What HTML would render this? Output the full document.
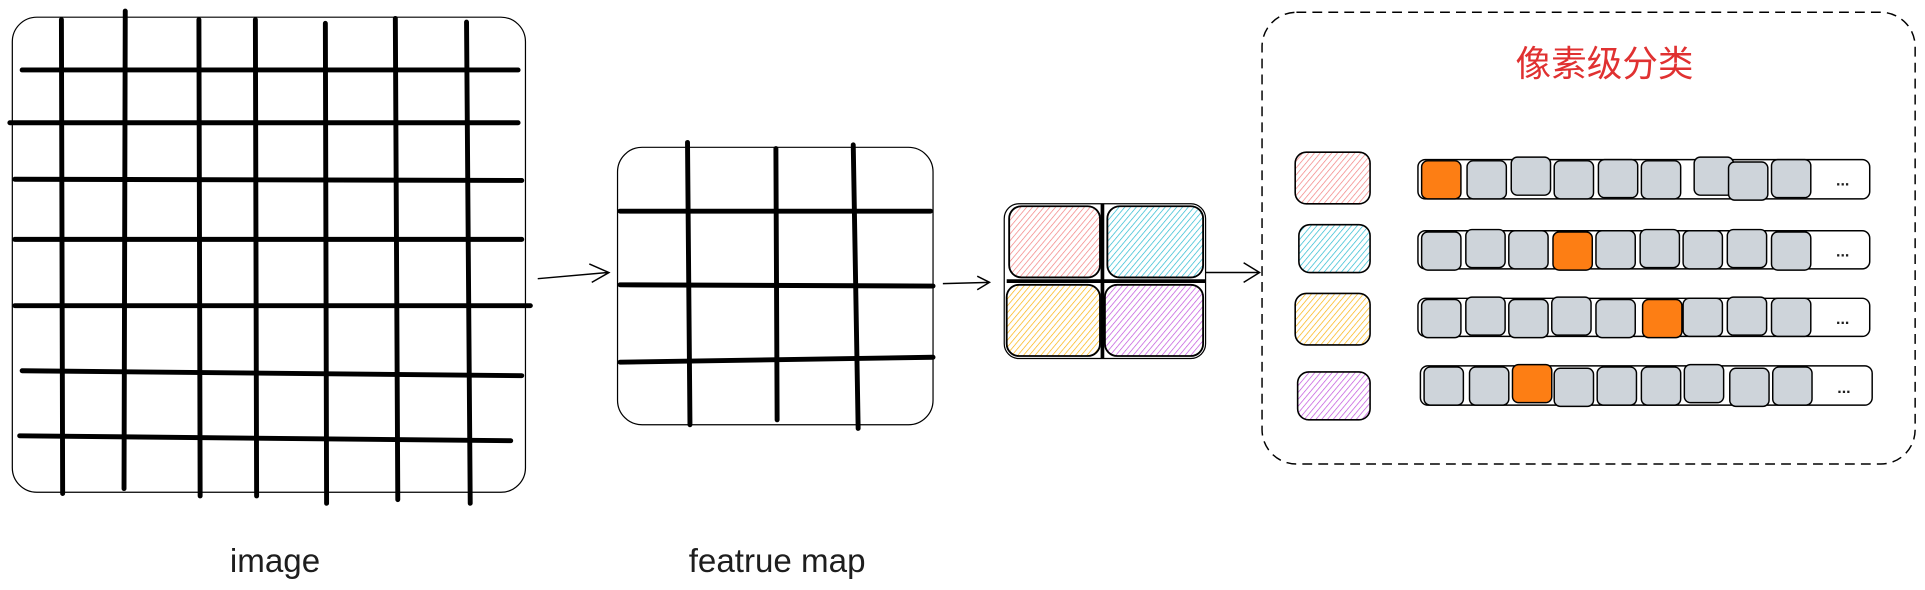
<!DOCTYPE html>
<html><head><meta charset="utf-8"><style>
html,body{margin:0;padding:0;background:#fff;width:1925px;height:590px;overflow:hidden}
svg{display:block}
</style></head><body>
<svg width="1925" height="590" viewBox="0 0 1568 480.6" xmlns="http://www.w3.org/2000/svg">
<defs>
<pattern id="hp" width="3.6" height="3.6" patternUnits="userSpaceOnUse" patternTransform="rotate(40)"><line x1="0" y1="0" x2="0" y2="3.6" stroke="#f27c7c" stroke-width="1.1"/></pattern>
<pattern id="hc" width="3.6" height="3.6" patternUnits="userSpaceOnUse" patternTransform="rotate(40)"><line x1="0" y1="0" x2="0" y2="3.6" stroke="#22b8cf" stroke-width="1.1"/></pattern>
<pattern id="hy" width="3.6" height="3.6" patternUnits="userSpaceOnUse" patternTransform="rotate(40)"><line x1="0" y1="0" x2="0" y2="3.6" stroke="#fab005" stroke-width="1.1"/></pattern>
<pattern id="hv" width="3.6" height="3.6" patternUnits="userSpaceOnUse" patternTransform="rotate(40)"><line x1="0" y1="0" x2="0" y2="3.6" stroke="#be4bdb" stroke-width="1.1"/></pattern>
</defs>
<g fill="none" stroke="#000">
<rect x="10" y="14" width="418" height="387" rx="20" stroke-width="1"/>
<g stroke-width="4" stroke-linecap="round">
<line x1="50" y1="16" x2="51" y2="402"/><line x1="102" y1="9" x2="101" y2="398"/>
<line x1="162" y1="16" x2="163" y2="404"/><line x1="208" y1="16" x2="209" y2="404"/>
<line x1="265" y1="19" x2="266" y2="410"/><line x1="322" y1="15" x2="324" y2="407"/>
<line x1="380" y1="18" x2="383" y2="410"/>
<line x1="18" y1="57" x2="422" y2="57"/><line x1="8" y1="100" x2="422" y2="100"/>
<line x1="12" y1="146" x2="425" y2="147"/><line x1="12" y1="195" x2="425" y2="195"/>
<line x1="12" y1="249" x2="432" y2="249"/><line x1="18" y1="302" x2="425" y2="306"/>
<line x1="16" y1="355" x2="416" y2="359"/>
</g>
<path d="M438 227 L495 222 M480 215 L496 222 L482 230" stroke-width="1.2"/>
<rect x="503" y="120" width="257" height="226" rx="20" stroke-width="1"/>
<g stroke-width="4" stroke-linecap="round">
<line x1="560" y1="116" x2="562" y2="346"/><line x1="632" y1="121" x2="633" y2="342"/>
<line x1="695" y1="118" x2="699" y2="349"/>
<line x1="505" y1="172" x2="758" y2="172"/><line x1="505" y1="232" x2="760" y2="233"/>
<line x1="505" y1="295" x2="760" y2="291"/>
</g>
<path d="M768 231 L806 230 M796 225 L806 230 L796 236" stroke-width="1.2"/>
<rect x="818" y="166" width="164" height="126" rx="12" stroke-width="1"/>
<rect x="822" y="168" width="74" height="58" rx="10" fill="url(#hp)" stroke-width="1.5"/>
<rect x="902" y="168" width="78" height="58" rx="10" fill="url(#hc)" stroke-width="1.5"/>
<rect x="820" y="232" width="76" height="58" rx="10" fill="url(#hy)" stroke-width="1.5"/>
<rect x="900" y="232" width="80" height="58" rx="10" fill="url(#hv)" stroke-width="1.5"/>
<line x1="898" y1="166" x2="898" y2="292" stroke-width="3"/>
<line x1="820" y1="229" x2="982" y2="229" stroke-width="3"/>
<path d="M982 222 L1025 222 M1013 214 L1026 222 L1013 230" stroke-width="1.2"/>
<rect x="1028" y="10" width="532" height="368" rx="28" stroke-width="1.2" stroke-dasharray="8 5"/>
<rect x="1055" y="124" width="61" height="42" rx="9" fill="url(#hp)" stroke-width="1.3"/>
<rect x="1058" y="183" width="58" height="39" rx="9" fill="url(#hc)" stroke-width="1.3"/>
<rect x="1055" y="239" width="61" height="42" rx="9" fill="url(#hy)" stroke-width="1.3"/>
<rect x="1057" y="303" width="59" height="39" rx="9" fill="url(#hv)" stroke-width="1.3"/>
</g>
<g stroke="#000" stroke-width="1.2">
<rect x="1155" y="130" width="368" height="32" rx="6" fill="#fff"/>
<rect x="1158" y="131" width="32" height="31" rx="5" fill="#fd7e14"/>
<rect x="1195" y="131" width="32" height="31" rx="5" fill="#ced4da"/>
<rect x="1231" y="128" width="32" height="31" rx="5" fill="#ced4da"/>
<rect x="1266" y="131" width="32" height="31" rx="5" fill="#ced4da"/>
<rect x="1302" y="130" width="32" height="31" rx="5" fill="#ced4da"/>
<rect x="1337" y="131" width="32" height="31" rx="5" fill="#ced4da"/>
<rect x="1380" y="128" width="32" height="31" rx="5" fill="#ced4da"/>
<rect x="1408" y="132" width="32" height="31" rx="5" fill="#ced4da"/>
<rect x="1443" y="130" width="32" height="31" rx="5" fill="#ced4da"/>
<rect x="1155" y="188" width="368" height="31" rx="6" fill="#fff"/>
<rect x="1158" y="189" width="32" height="31" rx="5" fill="#ced4da"/>
<rect x="1194" y="187" width="32" height="31" rx="5" fill="#ced4da"/>
<rect x="1229" y="188" width="32" height="31" rx="5" fill="#ced4da"/>
<rect x="1265" y="189" width="32" height="31" rx="5" fill="#fd7e14"/>
<rect x="1300" y="188" width="32" height="31" rx="5" fill="#ced4da"/>
<rect x="1336" y="187" width="32" height="31" rx="5" fill="#ced4da"/>
<rect x="1371" y="188" width="32" height="31" rx="5" fill="#ced4da"/>
<rect x="1407" y="187" width="32" height="31" rx="5" fill="#ced4da"/>
<rect x="1443" y="189" width="32" height="31" rx="5" fill="#ced4da"/>
<rect x="1155" y="243" width="368" height="31" rx="6" fill="#fff"/>
<rect x="1158" y="244" width="32" height="31" rx="5" fill="#ced4da"/>
<rect x="1194" y="242" width="32" height="31" rx="5" fill="#ced4da"/>
<rect x="1229" y="244" width="32" height="31" rx="5" fill="#ced4da"/>
<rect x="1264" y="242" width="32" height="31" rx="5" fill="#ced4da"/>
<rect x="1300" y="244" width="32" height="31" rx="5" fill="#ced4da"/>
<rect x="1338" y="244" width="32" height="31" rx="5" fill="#fd7e14"/>
<rect x="1371" y="243" width="32" height="31" rx="5" fill="#ced4da"/>
<rect x="1407" y="242" width="32" height="31" rx="5" fill="#ced4da"/>
<rect x="1443" y="243" width="32" height="31" rx="5" fill="#ced4da"/>
<rect x="1157" y="298" width="368" height="32" rx="6" fill="#fff"/>
<rect x="1160" y="299" width="32" height="31" rx="5" fill="#ced4da"/>
<rect x="1197" y="299" width="32" height="31" rx="5" fill="#ced4da"/>
<rect x="1232" y="297" width="32" height="31" rx="5" fill="#fd7e14"/>
<rect x="1266" y="300" width="32" height="31" rx="5" fill="#ced4da"/>
<rect x="1301" y="299" width="32" height="31" rx="5" fill="#ced4da"/>
<rect x="1337" y="299" width="32" height="31" rx="5" fill="#ced4da"/>
<rect x="1372" y="297" width="32" height="31" rx="5" fill="#ced4da"/>
<rect x="1409" y="300" width="32" height="31" rx="5" fill="#ced4da"/>
<rect x="1444" y="299" width="32" height="31" rx="5" fill="#ced4da"/>
</g>
<g font-family="Liberation Sans, sans-serif" font-size="13" font-weight="bold" fill="#1e1e1e" text-anchor="middle">
<text x="1501" y="151">...</text><text x="1501" y="209">...</text>
<text x="1501" y="264">...</text><text x="1502" y="320">...</text>
</g>
<text x="1307" y="62" font-family="'Liberation Sans','Noto Sans CJK SC',sans-serif" font-size="29" fill="#e03131" text-anchor="middle">像素级分类</text>
<text x="224" y="466" font-family="'Liberation Sans',sans-serif" font-size="27" fill="#1e1e1e" text-anchor="middle">image</text>
<text x="633" y="466" font-family="'Liberation Sans',sans-serif" font-size="27" fill="#1e1e1e" text-anchor="middle">featrue map</text>
</svg>
</body></html>
